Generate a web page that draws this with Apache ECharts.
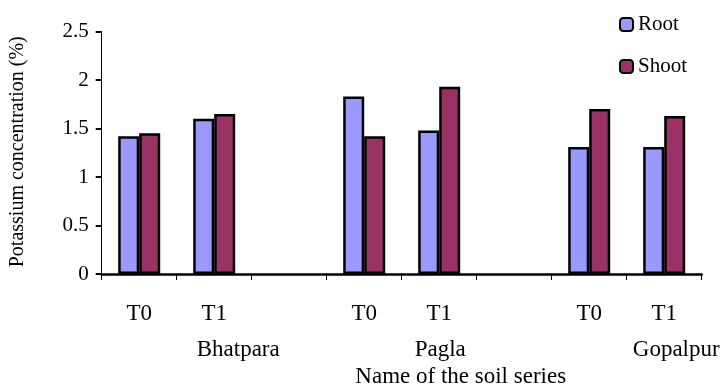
<!DOCTYPE html>
<html>
<head>
<meta charset="utf-8">
<script src="https://cdn.jsdelivr.net/npm/echarts@6/dist/echarts.min.js"></script>
<style>html,body{margin:0;padding:0;background:#fff}#c{width:727px;height:386px}</style>
</head>
<body>
<div id="c"></div>
<script>
const treatments = ['T0', 'T1', '', 'T0', 'T1', '', 'T0', 'T1'];
const soilSeries = ['Bhatpara', 'Pagla', 'Gopalpur'];
const rootValues = [1.42, 1.60, null, 1.83, 1.48, null, 1.31, 1.31];
const shootValues = [1.45, 1.65, null, 1.42, 1.93, null, 1.70, 1.63];
const yTicks = [0, 0.5, 1, 1.5, 2, 2.5];

const FONT = '"Liberation Serif", "Times New Roman", serif';
const keys = treatments.map((t, i) => i + '|' + t);
const chart = echarts.init(document.getElementById('c'), null, {renderer: 'canvas'});

chart.setOption({
  animation: false,
  backgroundColor: '#fff',
  grid: {left: 101.7, right: 25.3, top: 31.5, bottom: 112, containLabel: false, outerBoundsMode: 'none'},
  legend: {
    orient: 'vertical', left: 614, top: 9, itemGap: 21,
    itemWidth: 13, itemHeight: 13,
    textStyle: {fontFamily: FONT, fontSize: 21, color: '#000'},
    data: ['Root', 'Shoot']
  },
  xAxis: {
    type: 'category', data: keys,
    name: 'Name of the soil series', nameLocation: 'middle', nameGap: 91,
    nameTextStyle: {fontFamily: FONT, fontSize: 23, color: '#000', padding: [0, 0, 0, 118]},
    axisLine: {lineStyle: {color: '#000', width: 2.5}},
    axisTick: {show: true, length: 6, lineStyle: {color: '#000', width: 1}},
    axisLabel: {formatter: v => v.split('|')[1], fontFamily: FONT, fontSize: 23, color: '#000', margin: 28}
  },
  yAxis: {
    type: 'value', min: yTicks[0], max: yTicks[yTicks.length - 1], interval: 0.5,
    name: 'Potassium concentration (%)', nameLocation: 'middle', nameGap: 74, nameRotate: 90,
    nameTextStyle: {fontFamily: FONT, fontSize: 20, color: '#000', padding: [0, 0, 0, 2]},
    axisLine: {show: true, lineStyle: {color: '#000', width: 1}},
    axisTick: {show: true, length: 6, lineStyle: {color: '#000', width: 2}},
    splitLine: {show: false},
    axisLabel: {fontFamily: FONT, fontSize: 21, color: '#000', margin: 13}
  },
  series: [
    {name: 'Root', type: 'bar', data: rootValues, barWidth: 21, barGap: '0%',
     itemStyle: {color: '#9999FF', borderColor: '#000', borderWidth: 2.5}},
    {name: 'Shoot', type: 'bar', data: shootValues, barWidth: 21, barGap: '0%',
     itemStyle: {color: '#993366', borderColor: '#000', borderWidth: 2.5}}
  ]
});

// group names under the T1 category of each soil series
const groupOffsets = [24, 1, 12];
const graphics = [];
let g = 0;
treatments.forEach((t, i) => {
  if (t === 'T1') {
    const x = chart.convertToPixel({xAxisIndex: 0}, keys[i]);
    graphics.push({
      type: 'text', x: x + groupOffsets[g], y: 350,
      style: {text: soilSeries[g], font: '23px ' + FONT, fill: '#000', align: 'center', verticalAlign: 'middle'}
    });
    g++;
  }
});
chart.setOption({graphic: graphics});
</script>
</body>
</html>
